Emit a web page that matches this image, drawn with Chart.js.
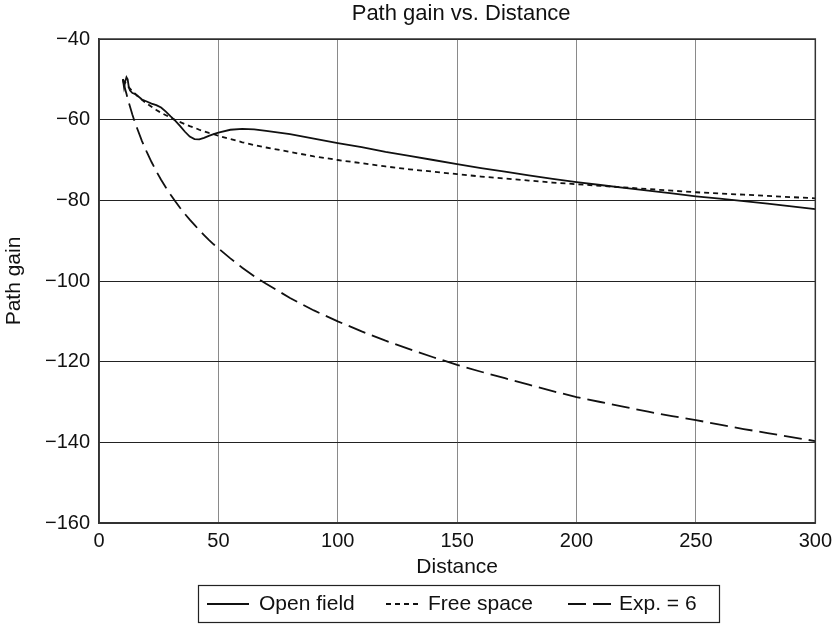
<!DOCTYPE html>
<html>
<head>
<meta charset="utf-8">
<script src="https://cdn.jsdelivr.net/npm/chart.js@4/dist/chart.umd.min.js"></script>
<style>
html,body{margin:0;padding:0;background:#fff;}
canvas{display:block;}
</style>
</head>
<body>
<canvas id="c" width="838" height="624"></canvas>
<script>
const distance = [10, 10.5, 11, 11.5, 12, 12.5, 13, 14, 15, 16, 18, 20, 22, 24, 26, 28, 30, 32, 34, 36, 38, 40, 42, 44, 46, 48, 50, 55, 60, 65, 70, 80, 90, 100, 110, 120, 130, 140, 150, 160, 170, 180, 190, 200, 210, 220, 230, 240, 250, 260, 270, 280, 290, 300];

const openField = [-50, -52, -50.5, -49.5, -50, -52, -52.8, -53.4, -53.6, -54, -55, -55.5, -56, -56.4, -57, -58, -59.2, -60.3, -61.6, -63, -64.2, -64.8, -64.9, -64.5, -64, -63.6, -63.2, -62.5, -62.3, -62.4, -62.8, -63.6, -64.7, -65.8, -66.8, -68, -69, -70, -71, -72, -72.9, -73.8, -74.7, -75.5, -76.2, -76.9, -77.6, -78.3, -79, -79.6, -80.2, -80.8, -81.5, -82.2];

const freeSpace = [-50, -50.5, -50.8, -51.2, -51.6, -52, -52.3, -53, -53.5, -54.1, -55.1, -56, -56.8, -57.6, -58.3, -58.9, -59.5, -60.1, -60.6, -61.1, -61.6, -62, -62.5, -62.9, -63.3, -63.6, -64, -64.8, -65.6, -66.3, -66.9, -68, -69.1, -70, -70.8, -71.6, -72.3, -72.9, -73.5, -74.1, -74.6, -75.1, -75.6, -76, -76.4, -76.8, -77.2, -77.6, -78, -78.3, -78.6, -78.9, -79.2, -79.5];

const exp6 = [-50, -51.3, -52.5, -53.6, -54.8, -55.8, -56.8, -58.8, -60.6, -62.2, -65.3, -68, -70.5, -72.8, -74.9, -76.8, -78.6, -80.3, -81.9, -83.4, -84.8, -86.1, -87.4, -88.6, -89.8, -90.9, -91.9, -94.4, -96.7, -98.8, -100.7, -104.2, -107.3, -110, -112.5, -114.8, -116.9, -118.9, -120.8, -122.5, -124.1, -125.7, -127.3, -128.8, -130, -131.2, -132.4, -133.5, -134.5, -135.6, -136.7, -137.7, -138.7, -139.7];

const seriesLabels = ['Open field', 'Free space', 'Exp. = 6'];
const chartTitle = 'Path gain vs. Distance';
const xTicks = [0, 50, 100, 150, 200, 250, 300];
const yTicks = [-160, -140, -120, -100, -80, -60, -40];

const toPoints = (ys) => distance.map((d, i) => ({x: d, y: ys[i]}));

const FAMILY = '"Liberation Sans", Arial, Helvetica, sans-serif';
Chart.defaults.font.family = FAMILY;
Chart.defaults.font.size = 20;
Chart.defaults.color = '#111';

const frameAndLegend = {
  id: 'frameAndLegend',
  afterDraw(chart) {
    const ctx = chart.ctx;
    const a = chart.chartArea;
    ctx.save();
    ctx.strokeStyle = '#333';
    ctx.lineWidth = 1.5;
    ctx.setLineDash([]);
    ctx.strokeRect(a.left, a.top, a.right - a.left, a.bottom - a.top);

    // title centred over the plot area
    ctx.fillStyle = '#111';
    ctx.font = '22px ' + FAMILY;
    ctx.textAlign = 'center';
    ctx.textBaseline = 'middle';
    ctx.fillText(chartTitle, (a.left + a.right) / 2 + 4, 14);

    // boxed legend
    const boxL = 198.5, boxT = 585.5, boxW = 521, boxH = 37;
    ctx.strokeStyle = '#222';
    ctx.lineWidth = 1.2;
    ctx.strokeRect(boxL, boxT, boxW, boxH);
    const cy = boxT + boxH / 2;
    const sampleW = [42, 32, 44];
    const startX = [207, 386, 568];
    const gap = [10, 10, 7];
    ctx.font = '21px ' + FAMILY;
    ctx.textAlign = 'left';
    chart.data.datasets.forEach((ds, i) => {
      const x0 = startX[i];
      ctx.beginPath();
      ctx.setLineDash(ds.borderDash || []);
      ctx.strokeStyle = ds.borderColor;
      ctx.lineWidth = ds.borderWidth;
      ctx.moveTo(x0, cy);
      ctx.lineTo(x0 + sampleW[i], cy);
      ctx.stroke();
      ctx.setLineDash([]);
      ctx.fillText(ds.label, x0 + sampleW[i] + gap[i], cy);
    });
    ctx.restore();
  }
};

const fmt = (v) => (v < 0 ? '\u2212' + Math.abs(v) : String(v));

new Chart(document.getElementById('c'), {
  type: 'line',
  data: {
    datasets: [
      {label: seriesLabels[0], data: toPoints(openField), borderColor: '#111', borderWidth: 1.8, pointRadius: 0, fill: false, tension: 0},
      {label: seriesLabels[1], data: toPoints(freeSpace), borderColor: '#111', borderWidth: 1.8, borderDash: [5, 4], pointRadius: 0, fill: false, tension: 0},
      {label: seriesLabels[2], data: toPoints(exp6), borderColor: '#111', borderWidth: 1.8, borderDash: [18, 7], pointRadius: 0, fill: false, tension: 0}
    ]
  },
  options: {
    responsive: false,
    animation: false,
    devicePixelRatio: 1,
    layout: {padding: {left: 0, right: 19, top: 39, bottom: 44}},
    plugins: {
      legend: {display: false},
      tooltip: {enabled: false},
      title: {display: false}
    },
    scales: {
      x: {
        type: 'linear', min: 0, max: 300,
        afterBuildTicks: (s) => { s.ticks = xTicks.map(v => ({value: v})); },
        afterFit: (s) => { s.height = 57; },
        ticks: {padding: 6, color: '#111', callback: fmt, maxRotation: 0},
        grid: {color: '#8a8a8a', lineWidth: 1, drawTicks: false},
        border: {color: '#333', width: 1.5},
        title: {display: true, text: 'Distance', color: '#111', font: {size: 21}, padding: {top: 0, bottom: 0}}
      },
      y: {
        type: 'linear', min: -160, max: -40,
        afterBuildTicks: (s) => { s.ticks = yTicks.map(v => ({value: v})); },
        afterFit: (s) => { s.width = 99; },
        ticks: {padding: 9, color: '#111', callback: fmt},
        grid: {color: '#222', lineWidth: 1, drawTicks: false},
        border: {color: '#333', width: 1.5},
        title: {display: true, text: 'Path gain', color: '#111', font: {size: 21}, padding: {top: 2, bottom: 0}}
      }
    }
  },
  plugins: [frameAndLegend]
});
</script>
</body>
</html>
